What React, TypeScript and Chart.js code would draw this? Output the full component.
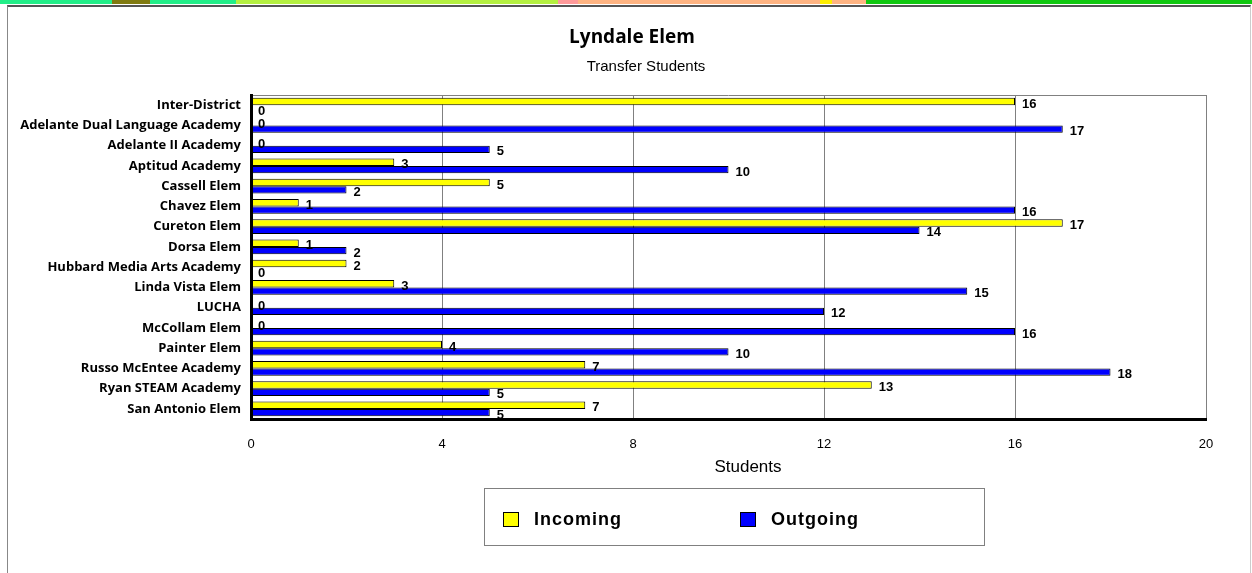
import React, { useEffect, useRef } from "react";
import { Chart, registerables } from "chart.js";

Chart.register(...registerables);

const categories = [
  "Inter-District",
  "Adelante Dual Language Academy",
  "Adelante II Academy",
  "Aptitud Academy",
  "Cassell Elem",
  "Chavez Elem",
  "Cureton Elem",
  "Dorsa Elem",
  "Hubbard Media Arts Academy",
  "Linda Vista Elem",
  "LUCHA",
  "McCollam Elem",
  "Painter Elem",
  "Russo McEntee Academy",
  "Ryan STEAM Academy",
  "San Antonio Elem",
];
const incoming = [16, 0, 0, 3, 5, 1, 17, 1, 2, 3, 0, 0, 4, 7, 13, 7];
const outgoing = [0, 17, 5, 10, 2, 16, 14, 2, 0, 15, 12, 16, 10, 18, 5, 5];
const xMin = 0;
const xMax = 20;
const xStep = 4;
const seriesNames = ["Incoming", "Outgoing"];
const chartTitle = "Lyndale Elem";
const chartSubtitle = "Transfer Students";
const xAxisTitle = "Students";

const overlayPlugin = {
  id: "overlay",
  beforeDatasetsDraw(chart: any) {
    const { ctx, chartArea } = chart;
    ctx.save();
    ctx.strokeStyle = "#808080";
    ctx.lineWidth = 1;
    ctx.beginPath();
    ctx.moveTo(chartArea.left, chartArea.top + 0.5);
    ctx.lineTo(chartArea.right, chartArea.top + 0.5);
    ctx.stroke();
    ctx.restore();
  },
  afterDatasetsDraw(chart: any) {
    const { ctx } = chart;
    ctx.save();
    ctx.fillStyle = "#000";
    ctx.font = "bold 13px 'Liberation Sans', Arial, sans-serif";
    ctx.textBaseline = "middle";
    ctx.textAlign = "left";
    chart.data.datasets.forEach((ds: any, di: number) => {
      const meta = chart.getDatasetMeta(di);
      meta.data.forEach((el: any, i: number) => {
        const v = ds.data[i];
        ctx.fillText(String(v), el.x + 7, el.y + 2.5);
      });
    });
    ctx.restore();
  },
  afterDraw(chart: any) {
    const { ctx } = chart;
    ctx.save();
    ctx.fillStyle = "#000";
    ctx.textAlign = "center";
    ctx.textBaseline = "middle";
    ctx.font = "bold 19px 'Open Sans', sans-serif";
    ctx.fillText(chartTitle, 632, 38);
    ctx.font = "15px 'Liberation Sans', Arial, sans-serif";
    ctx.fillText(chartSubtitle, 646, 67);
    ctx.font = "17px 'Liberation Sans', Arial, sans-serif";
    ctx.fillText(xAxisTitle, 748, 467);

    // legend box
    ctx.strokeStyle = "#808080";
    ctx.lineWidth = 1;
    ctx.strokeRect(484.5, 488.5, 500, 57);
    const itemX = [503, 740];
    chart.data.datasets.forEach((ds: any, di: number) => {
      const x = itemX[di];
      ctx.fillStyle = ds.backgroundColor;
      ctx.fillRect(x, 512, 15, 14);
      ctx.strokeStyle = "#000";
      ctx.strokeRect(x + 0.5, 512.5, 15, 14);
      ctx.fillStyle = "#000";
      ctx.textAlign = "left";
      ctx.font = "bold 18px 'Liberation Sans', Arial, sans-serif";
      try {
        (ctx as any).letterSpacing = "1px";
      } catch (e) {}
      ctx.fillText(ds.label, x + 31, 520);
      try {
        (ctx as any).letterSpacing = "0px";
      } catch (e) {}
    });
    ctx.restore();
  },
};

export default function App() {
  const canvasRef = useRef<HTMLCanvasElement | null>(null);

  useEffect(() => {
    const canvas = canvasRef.current;
    if (!canvas) return;
    const chart = new Chart(canvas, {
      type: "bar",
      data: {
        labels: categories,
        datasets: [
          {
            label: seriesNames[0],
            data: incoming,
            backgroundColor: "#ffff00",
            borderColor: "#000000",
            borderWidth: 1,
            categoryPercentage: 0.72,
            barPercentage: 1,
          },
          {
            label: seriesNames[1],
            data: outgoing,
            backgroundColor: "#0000ff",
            borderColor: "#000000",
            borderWidth: 1,
            categoryPercentage: 0.72,
            barPercentage: 1,
          },
        ],
      },
      options: {
        indexAxis: "y",
        animation: false,
        responsive: true,
        maintainAspectRatio: false,
        layout: { padding: { left: 0, right: 46, top: 95, bottom: 0 } },
        plugins: {
          legend: { display: false },
          title: { display: false },
          tooltip: { enabled: false },
        },
        scales: {
          x: {
            type: "linear",
            min: xMin,
            max: xMax,
            ticks: {
              stepSize: xStep,
              color: "#000",
              padding: 18,
              font: { family: "'Liberation Sans', Arial, sans-serif", size: 13 },
            },
            grid: {
              drawTicks: false,
              color: (c: any) => (c.tick && c.tick.value === 0 ? "rgba(0,0,0,0)" : "#808080"),
              lineWidth: 1,
            },
            border: { display: true, color: "#000", width: 3, z: 1 },
            afterFit(scale: any) {
              scale.height = 154;
            },
          },
          y: {
            type: "category",
            ticks: {
              color: "#000",
              autoSkip: false,
              padding: 10,
              font: { family: "'Open Sans', sans-serif", size: 13, weight: "bold" },
            },
            grid: { display: false, drawTicks: false },
            border: { display: true, color: "#000", width: 3, z: 1 },
            afterFit(scale: any) {
              scale.width = 251;
            },
          },
        },
      },
      plugins: [overlayPlugin],
    });
    return () => chart.destroy();
  }, []);

  return (
    <div style={{ position: "fixed", left: 0, top: 0, width: 1252, height: 573, background: "#fff", overflow: "hidden" }}>
      <div
        style={{
          position: "absolute",
          left: 0,
          top: 0,
          width: 1252,
          height: 4,
          background:
            "linear-gradient(to right, #22ee88 0px, #22ee88 112px, #807a10 112px, #807a10 150px, #22ee88 150px, #22ee88 236px, #b4f040 236px, #b4f040 558px, #ff9a9a 558px, #ff9a9a 578px, #ffb482 578px, #ffb482 820px, #ffee00 820px, #ffee00 832px, #ffb482 832px, #ffb482 866px, #10c810 866px, #10c810 1252px)",
        }}
      />
      <div
        style={{
          position: "absolute",
          left: 7,
          top: 5,
          width: 1242,
          height: 580,
          borderTop: "2px solid #555",
          borderLeft: "1px solid #888",
          borderRight: "1px solid #ccc",
        }}
      />
      <div style={{ position: "absolute", left: 0, top: 0, width: 1252, height: 573 }}>
        <canvas ref={canvasRef} />
      </div>
    </div>
  );
}
